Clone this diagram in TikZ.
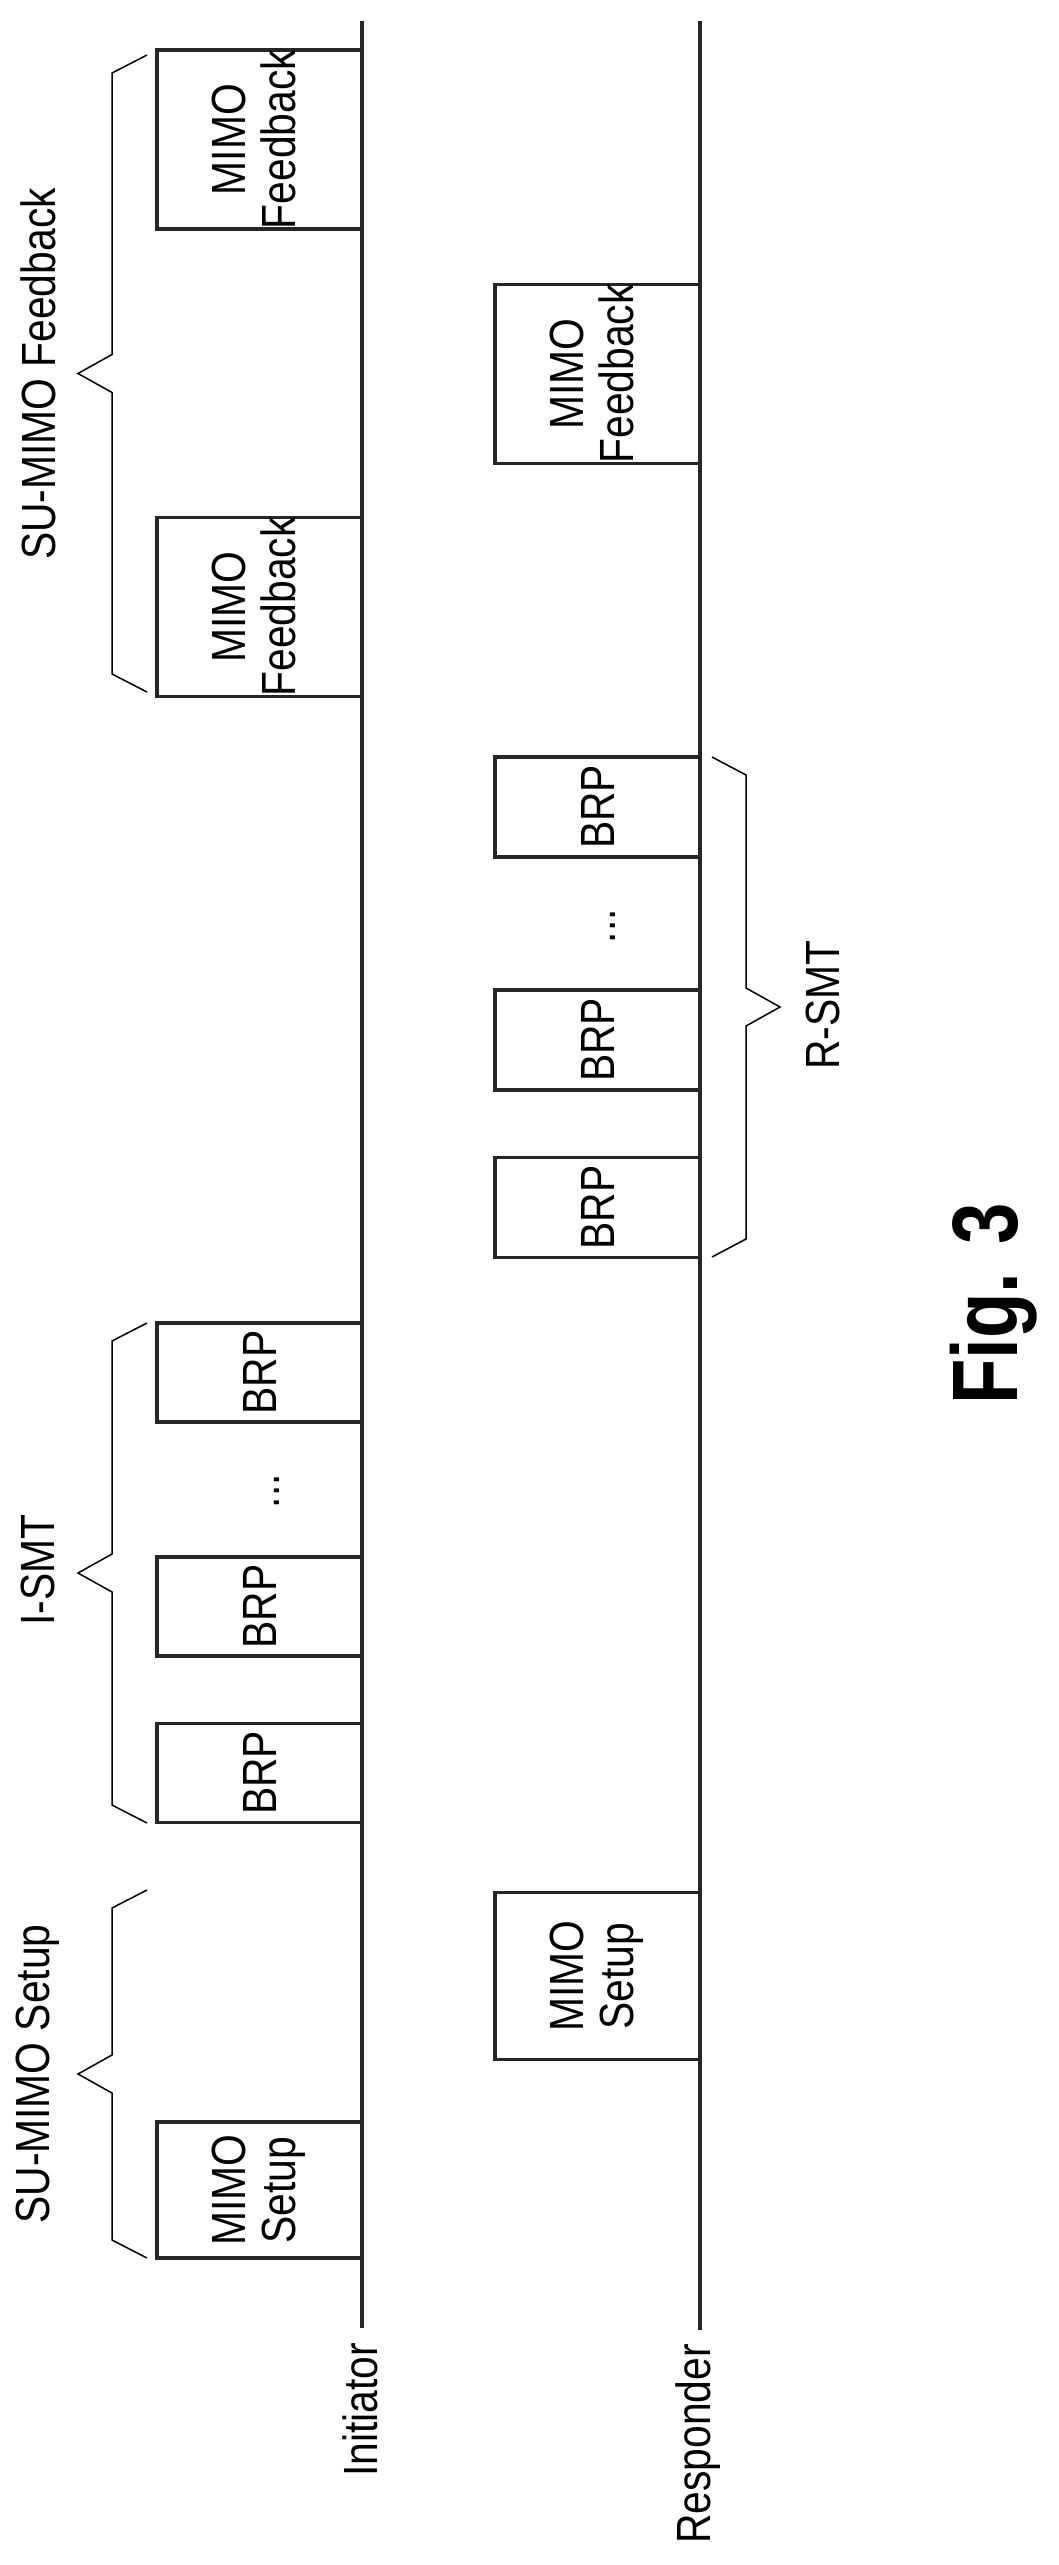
\documentclass[tikz,border=0pt]{standalone}
\usepackage{fontspec}
\setmainfont{Liberation Sans}
\usetikzlibrary{positioning}
\newcommand{\nar}[1]{\scalebox{0.85}[1]{#1}}
\newcommand{\two}[2]{\rotatebox{90}{\nar{\begin{tabular}{@{}c@{}}#1\\[-6pt]#2\end{tabular}}}}
\newcommand{\one}[1]{\rotatebox{90}{\nar{#1}}}
\tikzset{
    frame/.style={draw=black!85,line width=3.5pt,fill=white,inner sep=0pt,minimum width=205pt},
    lifeline/.style={black!85,line width=4pt},
    brace/.style={black,line width=1.5pt,line join=miter},
    lbl/.style={inner sep=0pt,font=\fontsize{48}{56}\selectfont}
}
\begin{document}
\begin{tikzpicture}[x=1pt,y=-1pt,font=\fontsize{48}{56}\selectfont]
      \useasboundingbox (0,0) rectangle (1059,2565);
      % lifelines
      \coordinate (itop) at (362,21);   \coordinate (ibot) at (362,2328);
      \coordinate (rtop) at (700,21);   \coordinate (rbot) at (700,2330);
      \draw[lifeline] (itop) -- (ibot);
      \draw[lifeline] (rtop) -- (rbot);
      \node[lbl] (init) at (360,2410) {\one{Initiator}};
      \node[lbl] (resp) at (698,2444) {\one{Responder}};
      % initiator frames
      \node[frame,minimum height=169pt] (ifb2) at (259.5,139.5) {\two{MIMO}{Feedback}};
      \node[frame,minimum height=170pt] (ifb1) at (259.5,607) {\two{MIMO}{Feedback}};
      \foreach \n/\y in {3/1372.5,2/1606.5,1/1773}
      {\node[frame,minimum height=99pt] (ibrp\n) at (259.5,\y) {\one{BRP}};}
      \node[lbl] (idots) at (277,1491) {\one{...}};
      \node[frame,minimum height=136pt] (isetup) at (259.5,2190) {\two{MIMO}{Setup}};
      % responder frames
      \node[frame,minimum height=172pt] (rfb) at (597.5,374) {\two{MIMO}{Feedback}};
      \foreach \n/\y in {3/807,2/1040,1/1207.5}
      {\node[frame,minimum height=100pt] (rbrp\n) at (597.5,\y) {\one{BRP}};}
      \node[lbl] (rdots) at (613,926) {\one{...}};
      \node[frame,minimum height=167pt] (rsetup) at (597.5,1976) {\two{MIMO}{Setup}};
      % braces
      \foreach \a/\b in {55/692,1323/1823,1890/2258}
      {\draw[brace] (147,\a) -- (112,\a+18) -- (112,{(\a+\b)/2-19}) -- (78,{(\a+\b)/2})
          -- (112,{(\a+\b)/2+19}) -- (112,\b-18) -- (147,\b);}
      \draw[brace] (712,757) -- (746,775) -- (746,988) -- (780,1007) -- (746,1026) -- (746,1239) -- (712,1257);
      \node[lbl] (fbl) at (38,374) {\one{SU-MIMO Feedback}};
      \node[lbl] (ismt) at (38,1570) {\one{I-SMT}};
      \node[lbl] (setl) at (38,2074) {\one{SU-MIMO Setup}};
      \node[lbl] (rsmt) at (823,1005) {\one{R-SMT}};
      \node[inner sep=0pt] (fig) at (994,1304) {\rotatebox{90}{\scalebox{0.8}[1]{\fontsize{93}{100}\selectfont\bfseries Fig. 3}}};
\end{tikzpicture}
\end{document}
